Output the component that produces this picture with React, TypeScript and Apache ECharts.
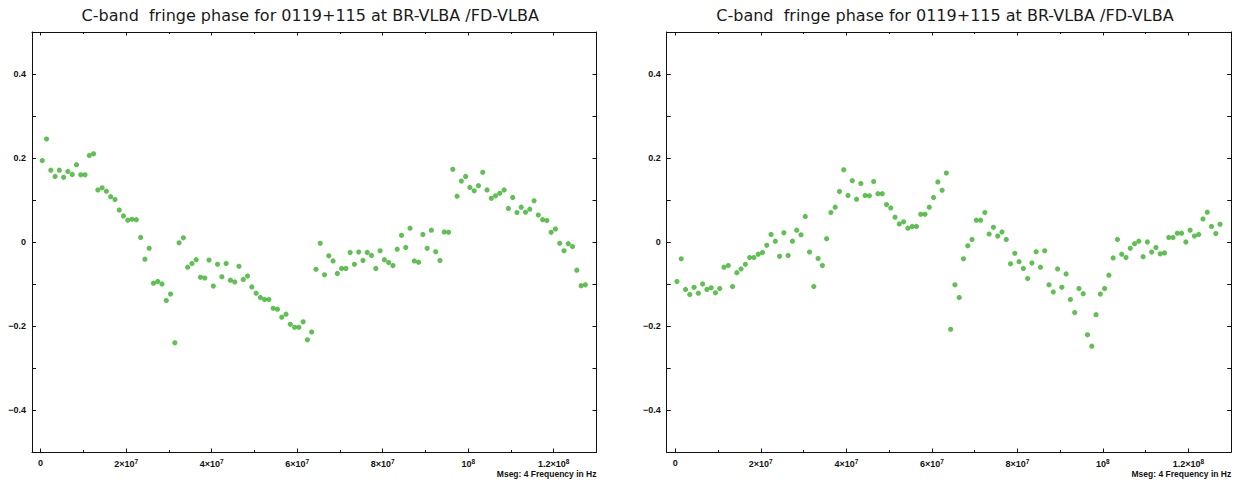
import React, { useEffect, useRef } from 'react';
import * as echarts from 'echarts';

const TITLE = 'C-band  fringe phase for 0119+115 at BR-VLBA /FD-VLBA';
const X_NAME = 'Mseg: 4 Frequency in Hz';

// channel grid (Hz): 128 channels, 4 IFs x 32
const CHANNEL_START_HZ = 0.4e6;
const CHANNEL_STEP_HZ = 1e6;

const LEFT_PHASE = [
  0.194, 0.245, 0.171, 0.156, 0.171, 0.154, 0.168, 0.161, 0.184, 0.160, 0.160, 0.206, 0.210, 0.124, 0.129, 0.121,
  0.108, 0.101, 0.076, 0.062, 0.052, 0.054, 0.053, 0.011, -0.041, -0.015, -0.098, -0.094, -0.100, -0.139, -0.124, -0.240,
  -0.002, 0.010, -0.060, -0.051, -0.042, -0.084, -0.086, -0.043, -0.105, -0.053, -0.083, -0.051, -0.091, -0.095, -0.058, -0.089,
  -0.081, -0.107, -0.122, -0.132, -0.137, -0.137, -0.158, -0.160, -0.179, -0.172, -0.196, -0.203, -0.203, -0.190, -0.233, -0.214,
  -0.065, -0.003, -0.078, -0.033, -0.045, -0.075, -0.063, -0.063, -0.025, -0.053, -0.024, -0.044, -0.025, -0.032, -0.063, -0.021,
  -0.042, -0.049, -0.056, -0.017, 0.016, -0.013, 0.033, -0.045, -0.048, 0.018, -0.015, 0.028, -0.023, -0.044, 0.024, 0.023,
  0.173, 0.109, 0.145, 0.156, 0.130, 0.122, 0.134, 0.166, 0.124, 0.104, 0.110, 0.116, 0.124, 0.080, 0.106, 0.070,
  0.083, 0.071, 0.078, 0.098, 0.064, 0.053, 0.051, 0.023, 0.031, -0.003, -0.021, -0.004, -0.011, -0.067, -0.104, -0.102,
];

const RIGHT_PHASE = [
  -0.094, -0.040, -0.113, -0.125, -0.108, -0.122, -0.100, -0.113, -0.109, -0.121, -0.111, -0.060, -0.056, -0.106, -0.073, -0.064,
  -0.053, -0.037, -0.037, -0.029, -0.025, -0.008, 0.018, 0.002, -0.034, 0.022, -0.032, 0.002, 0.028, 0.017, 0.061, -0.024,
  -0.106, -0.039, -0.056, 0.008, 0.070, 0.083, 0.120, 0.172, 0.111, 0.146, 0.102, 0.139, 0.111, 0.110, 0.144, 0.115,
  0.115, 0.089, 0.081, 0.059, 0.043, 0.048, 0.033, 0.037, 0.037, 0.066, 0.066, 0.083, 0.106, 0.143, 0.123, 0.164,
  -0.208, -0.102, -0.132, -0.040, -0.009, 0.006, 0.052, 0.052, 0.070, 0.019, 0.035, 0.014, 0.024, 0.006, -0.052, -0.027,
  -0.047, -0.063, -0.087, -0.050, -0.023, -0.060, -0.021, -0.102, -0.119, -0.064, -0.108, -0.076, -0.137, -0.168, -0.111, -0.123,
  -0.221, -0.248, -0.173, -0.124, -0.111, -0.079, -0.038, 0.006, -0.029, -0.037, -0.015, -0.004, 0.002, -0.035, 0.000, -0.024,
  -0.013, -0.028, -0.026, 0.011, 0.011, 0.021, 0.021, 0.000, 0.028, 0.014, 0.018, 0.055, 0.071, 0.037, 0.020, 0.042,
];

const X_MAJOR_TICKS = [0, 2e7, 4e7, 6e7, 8e7, 1e8, 1.2e8];
const X_MINOR_TICKS = [1e7, 3e7, 5e7, 7e7, 9e7, 1.1e8];
const X_TICK_MANTISSA = ['0', '2×10', '4×10', '6×10', '8×10', '10', '1.2×10'];
const X_TICK_EXPONENT = ['', '7', '7', '7', '7', '8', '8'];

const Y_LABEL_VALUES = [-0.4, -0.2, 0, 0.2, 0.4];
const Y_LABEL_TEXTS = ['−0.4', '−0.2', '0', '0.2', '0.4'];

const X_MIN = -2e6;
const X_MAX = 1.3e8;

const GREEN = '#38b228';
const INK = '#111';
const TICK_FONT = 'Liberation Sans';

function xLabel(v: number): string {
  const i = X_MAJOR_TICKS.findIndex((t) => Math.abs(t - v) < 1);
  if (i < 0) return '';
  return X_TICK_EXPONENT[i] ? `{n|${X_TICK_MANTISSA[i]}}{s|${X_TICK_EXPONENT[i]}}` : `{n|${X_TICK_MANTISSA[i]}}`;
}

function yLabel(v: number): string {
  const i = Y_LABEL_VALUES.findIndex((t) => Math.abs(t - v) < 1e-6);
  return i < 0 ? '' : Y_LABEL_TEXTS[i];
}

export default function App() {
  const ref = useRef<HTMLDivElement>(null);

  useEffect(() => {
    if (!ref.current) return;
    const chart = echarts.init(ref.current, null, { renderer: 'svg' });

    const grids = [
      { left: 32, top: 32, width: 564.5, height: 420 },
      { left: 666.7, top: 32, width: 564.5, height: 420 },
    ];

    const line = { show: true, onZero: false, lineStyle: { color: INK, width: 1 } };
    const xAxes: any[] = [];
    const yAxes: any[] = [];
    grids.forEach((_, g) => {
      const base = { type: 'value', gridIndex: g, min: X_MIN, max: X_MAX, splitLine: { show: false } };
      xAxes.push({
        ...base,
        position: 'bottom',
        axisLine: line,
        axisTick: { show: true, inside: true, length: 3.5, customValues: X_MAJOR_TICKS, lineStyle: { color: INK } },
        axisLabel: {
          show: true,
          customValues: X_MAJOR_TICKS,
          formatter: xLabel,
          margin: 6,
          color: INK,
          rich: {
            n: { fontFamily: TICK_FONT, fontWeight: 'bold', fontSize: 9, color: INK },
            s: { fontFamily: TICK_FONT, fontWeight: 'bold', fontSize: 6.5, color: INK, padding: [0, 0, 5, 0] },
          },
        },
      });
      xAxes.push({
        ...base,
        position: 'bottom',
        axisLine: { show: false, onZero: false },
        axisTick: { show: true, inside: true, length: 2, customValues: X_MINOR_TICKS, lineStyle: { color: INK } },
        axisLabel: { show: false },
      });
      xAxes.push({
        ...base,
        position: 'top',
        axisLine: line,
        axisTick: { show: true, inside: true, length: 3.5, customValues: X_MAJOR_TICKS, lineStyle: { color: INK } },
        axisLabel: { show: false },
      });
      xAxes.push({
        ...base,
        position: 'top',
        axisLine: { show: false, onZero: false },
        axisTick: { show: true, inside: true, length: 2, customValues: X_MINOR_TICKS, lineStyle: { color: INK } },
        axisLabel: { show: false },
      });
      const ybase = { type: 'value', gridIndex: g, min: -0.5, max: 0.5, interval: 0.1, splitLine: { show: false } };
      yAxes.push({
        ...ybase,
        position: 'left',
        axisLine: line,
        axisTick: { show: true, inside: true, length: 4, lineStyle: { color: INK } },
        axisLabel: {
          show: true,
          customValues: Y_LABEL_VALUES,
          formatter: yLabel,
          margin: 6,
          fontFamily: TICK_FONT,
          fontWeight: 'bold',
          fontSize: 9,
          color: INK,
        },
      });
      yAxes.push({
        ...ybase,
        position: 'right',
        axisLine: line,
        axisTick: { show: true, inside: true, length: 4, lineStyle: { color: INK } },
        axisLabel: { show: false },
      });
    });

    const freqs = LEFT_PHASE.map((_, i) => CHANNEL_START_HZ + i * CHANNEL_STEP_HZ);
    const series = [LEFT_PHASE, RIGHT_PHASE].map((vals, g) => ({
      type: 'scatter',
      xAxisIndex: g * 4,
      yAxisIndex: g * 2,
      symbol: 'circle',
      symbolSize: 5.2,
      itemStyle: { color: GREEN },
      silent: true,
      data: vals.map((v, i) => [freqs[i], v]),
    }));

    const graphics: any[] = [];
    grids.forEach((gr) => {
      graphics.push({
        type: 'text',
        x: gr.left + gr.width / 2 - 4,
        y: 15,
        style: {
          text: TITLE,
          fontFamily: 'DejaVu Sans',
          fontSize: 16,
          fill: '#1a1a1a',
          align: 'center',
          verticalAlign: 'middle',
        },
      });
      graphics.push({
        type: 'text',
        x: gr.left + gr.width,
        y: 474,
        style: {
          text: X_NAME,
          fontFamily: TICK_FONT,
          fontWeight: 'bold',
          fontSize: 8.5,
          fill: INK,
          align: 'right',
          verticalAlign: 'middle',
        },
      });
    });

    chart.setOption({
      animation: false,
      backgroundColor: '#ffffff',
      grid: grids,
      xAxis: xAxes,
      yAxis: yAxes,
      series,
      graphic: graphics,
    });

    return () => chart.dispose();
  }, []);

  return <div ref={ref} style={{ position: 'fixed', left: 0, top: 0, width: 1241, height: 483 }} />;
}
